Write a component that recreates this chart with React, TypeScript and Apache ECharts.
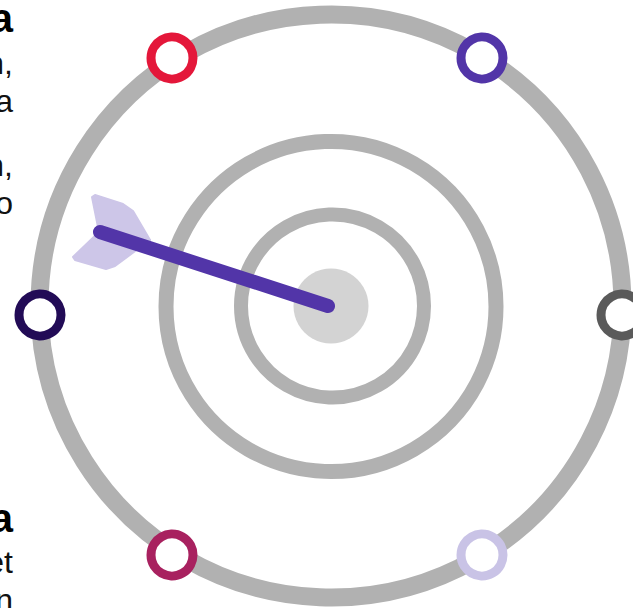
import React, { useEffect, useRef } from "react";
import * as echarts from "echarts";

const WIDTH = 633;
const HEIGHT = 608;
const centre = [331, 306];
const ringCentres = [[331, 306], [331, 306.5], [332.5, 306]];
const ringDiameters = [583, 330, 183];
const ringStrokes = [18, 15, 14];
const bullDiameter = 75;
const markers = [
  { pos: [172, 58], color: "#e4173a" },
  { pos: [482, 58], color: "#5235a8" },
  { pos: [622, 315], color: "#5a5a5a" },
  { pos: [40, 315], color: "#220b56" },
  { pos: [172, 555], color: "#a8215f" },
  { pos: [482, 555], color: "#c9c3e6" },
];
const shaft = [[100, 232], [328, 306]];
const fletchTop = [[92, 197], [95, 195], [123, 204], [133, 211], [150, 240], [99, 232]];
const fletchBottom = [[99, 232], [150, 240], [115, 266], [106, 269], [75, 260], [73, 257]];
const boldFragments = [{ t: "a", y: -2 }, { t: "a", y: 498 }];
const textFragments = [
  { t: "n,", y: 47 },
  { t: "a", y: 85 },
  { t: "n,", y: 149 },
  { t: "o", y: 187 },
  { t: "et", y: 546 },
  { t: "n", y: 584 },
];

export default function App() {
  const ref = useRef<HTMLDivElement>(null);
  useEffect(() => {
    document.body.style.margin = "0";
    const chart = echarts.init(ref.current!, undefined, { renderer: "svg" });
    const polygonSeries = (points: number[][], name: string) => ({
      type: "custom",
      name,
      coordinateSystem: "cartesian2d",
      silent: true,
      clip: false,
      z: 5,
      data: [points[0]],
      renderItem: (_: any, api: any) => ({
        type: "polygon",
        shape: { points: points.map((p) => api.coord(p)) },
        style: { fill: "#cdc6e8", stroke: "#cdc6e8", lineWidth: 2, lineJoin: "round" },
      }),
    });
    chart.setOption({
      animation: false,
      grid: { left: 0, top: 0, right: 0, bottom: 0 },
      xAxis: { type: "value", min: 0, max: WIDTH, show: false },
      yAxis: { type: "value", min: 0, max: HEIGHT, inverse: true, show: false },
      graphic: [
        ...boldFragments.map((f) => ({
          type: "text",
          x: 13,
          y: f.y,
          style: {
            text: f.t,
            align: "right",
            verticalAlign: "top",
            font: "bold 40px 'Liberation Sans'",
            fill: "#000",
          },
        })),
        ...textFragments.map((f) => ({
          type: "text",
          x: 13,
          y: f.y,
          style: {
            text: f.t,
            align: "right",
            verticalAlign: "top",
            font: "32px 'Liberation Sans'",
            fill: "#111",
          },
        })),
      ],
      series: [
        ...ringDiameters.map((d, i) => ({
          type: "scatter",
          name: "ring" + i,
          silent: true,
          clip: false,
          z: 2,
          symbol: "circle",
          symbolSize: d,
          itemStyle: { color: "rgba(0,0,0,0)", borderColor: "#b1b1b1", borderWidth: ringStrokes[i], opacity: 1 },
          data: [ringCentres[i]],
        })),
        {
          type: "scatter",
          name: "bull",
          silent: true,
          clip: false,
          z: 3,
          symbolSize: bullDiameter,
          itemStyle: { color: "#d3d3d3", opacity: 1 },
          data: [centre],
        },
        ...markers.map((m, i) => ({
          type: "scatter",
          name: "marker" + i,
          silent: true,
          clip: false,
          z: 4,
          symbolSize: 42,
          itemStyle: { color: "#fff", borderColor: m.color, borderWidth: 9, opacity: 1 },
          data: [m.pos],
        })),
        polygonSeries(fletchTop, "fletchTop"),
        polygonSeries(fletchBottom, "fletchBottom"),
        {
          type: "line",
          name: "shaft",
          silent: true,
          clip: false,
          z: 6,
          symbol: "none",
          lineStyle: { color: "#5235a8", width: 14, cap: "round" },
          data: shaft,
        },
      ],
    });
    return () => chart.dispose();
  }, []);
  return <div ref={ref} style={{ width: WIDTH, height: HEIGHT }} />;
}
